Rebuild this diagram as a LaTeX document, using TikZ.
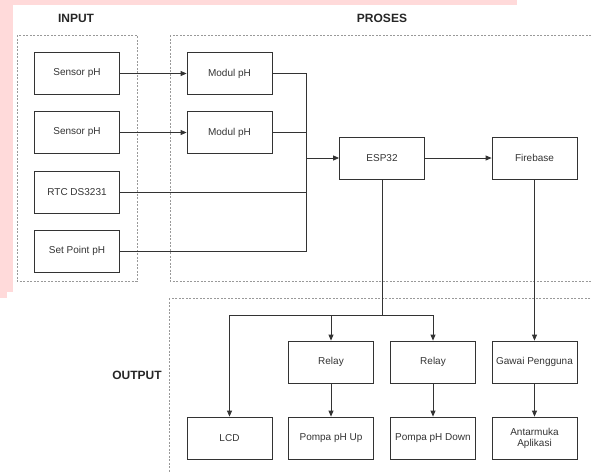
\documentclass[tikz,border=0pt]{standalone}
\usepackage{fontspec}
\setmainfont{Liberation Sans}
\usetikzlibrary{arrows.meta}
\definecolor{pinkbg}{RGB}{255,218,218}
\definecolor{ink}{RGB}{51,51,51}
\begin{document}
\begin{tikzpicture}[x=1pt,y=-1pt,
	box/.style={draw=ink,line width=0.8pt,minimum width=85pt,minimum height=42pt,inner sep=0,align=center,text=ink,font=\fontsize{10}{11}\selectfont},
	zone/.style={draw=gray!80,line width=0.8pt,dash pattern=on 2pt off 1.5pt},
	head/.style={font=\fontsize{12}{14}\selectfont\bfseries,text=black!85},
	wire/.style={draw=ink,line width=0.8pt},
	arr/.style={wire,-{Triangle[length=6pt,width=5pt]}}]
	\clip (0,0) rectangle (592,472);
	% background
	\fill[pinkbg] (0,0) rectangle (517,5);
	\fill[pinkbg] (0,0) rectangle (13,292);
	\fill[pinkbg] (0,292) rectangle (7,298);
	% zones
	\draw[zone] (17,35) rectangle (137,281);
	\draw[zone] (170,35) rectangle (600,281);
	\draw[zone] (169,298) rectangle (600,480);
	\node[head] (tin) at (76,18) {INPUT};
	\node[head] (tpro) at (382,18) {PROSES};
	\node[head] (tout) at (137,375) {OUTPUT};
	% Input
	\node[box] (sens1) at (77,73.5) {Sensor pH};
	\node[box] (sens2) at (77,132.5) {Sensor pH};
	\node[box] (rtc) at (77,192) {RTC DS3231};
	\node[box] (setp) at (77,251) {Set Point pH};
	% Proses
	\node[box] (mod1) at (229.5,73.5) {Modul pH};
	\node[box] (mod2) at (229.5,132.5) {Modul pH};
	\node[box] (esp) at (382,158) {ESP32};
	\node[box] (fire) at (534.5,158) {Firebase};
	% Output
	\node[box] (relay1) at (331,362) {Relay};
	\node[box] (relay2) at (433,362) {Relay};
	\node[box] (gawai) at (534.5,362) {Gawai Pengguna};
	\node[box] (lcd) at (229.5,438) {LCD};
	\node[box] (pup) at (331,438) {Pompa pH Up};
	\node[box] (pdown) at (433,438) {Pompa pH Down};
	\node[box] (app) at (534.5,438) {Antarmuka\\Aplikasi};
	% connectors
	\coordinate (join) at (306,158);
	\coordinate (split) at (382,315);
	\draw[arr] (sens1) -- (mod1);
	\draw[arr] (sens2) -- (mod2);
	\draw[wire] (mod1.east) -| (join);
	\draw[wire] (mod2.east) -| (join);
	\draw[wire] (rtc.east) -| (join);
	\draw[wire] (setp.east) -| (join);
	\draw[arr] (join) -- (esp.west);
	\draw[arr] (esp) -- (fire);
	\draw[wire] (esp.south) -- (split);
	\draw[arr] (split) -| (lcd.north);
	\draw[arr] (split) -| (relay1.north);
	\draw[arr] (split) -| (relay2.north);
	\draw[arr] (fire) -- (gawai);
	\draw[arr] (relay1) -- (pup);
	\draw[arr] (relay2) -- (pdown);
	\draw[arr] (gawai) -- (app);
\end{tikzpicture}
\end{document}
